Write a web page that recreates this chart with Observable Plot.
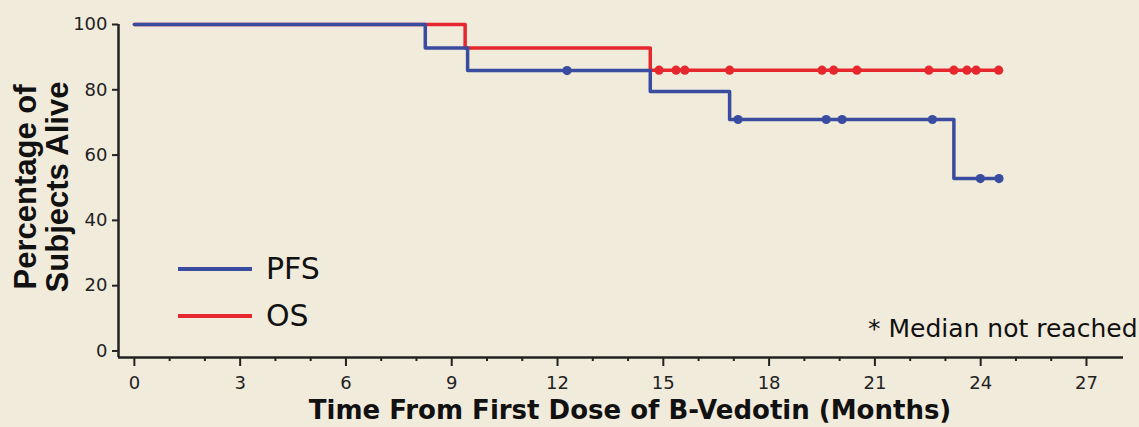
<!DOCTYPE html>
<html><head><meta charset="utf-8">
<script src="https://cdn.jsdelivr.net/npm/d3@7"></script>
<script src="https://cdn.jsdelivr.net/npm/@observablehq/plot@0.6"></script>
<style>
html,body{margin:0;padding:0;background:#f1ebdc;}
#wrap{position:relative;width:1139px;height:427px;background:#f1ebdc;overflow:hidden;}
#legend{position:absolute;left:0;top:0;pointer-events:none;}
</style></head><body><div id="wrap"></div>
<script>
// ---- data ----
const seriesNames = ["PFS", "OS"];
const seriesColors = ["#3a4c9f", "#e6272d"];

const pfsTime = [0, 8.25, 9.45, 14.63, 16.88, 23.24, 24.52];
const pfsSurv = [100, 92.8, 85.9, 79.5, 70.9, 52.8, 52.8];
const pfsCensorTime = [12.27, 17.12, 19.62, 20.07, 22.63, 23.99, 24.52];
const pfsCensorSurv = [85.9, 70.9, 70.9, 70.9, 70.9, 52.8, 52.8];

const osTime = [0, 9.38, 14.63, 24.51];
const osSurv = [100, 92.8, 86.0, 86.0];
const osCensorTime = [14.88, 15.36, 15.61, 16.88, 19.5, 19.83, 20.49, 22.53, 23.24, 23.61, 23.87, 24.51];
const osCensorSurv = [86.0, 86.0, 86.0, 86.0, 86.0, 86.0, 86.0, 86.0, 86.0, 86.0, 86.0, 86.0];

const xMajorTicks = [0, 3, 6, 9, 12, 15, 18, 21, 24, 27];
const xMinorTicks = [1, 2, 4, 5, 7, 8, 10, 11, 13, 14, 16, 17, 19, 20, 22, 23, 25, 26];
const yTicks = [0, 20, 40, 60, 80, 100];
const xDomain = [-0.45, 28.05];
const yDomain = [-2, 100];

const xTitle = "Time From First Dose of B-Vedotin (Months)";
const yTitle = "Percentage of\nSubjects Alive";
const noteText = "* Median not reached";

// ---- build rows ----
const zip = (a, b) => a.map((t, i) => ({t, s: b[i]}));
const pfsRows = zip(pfsTime, pfsSurv);
const osRows = zip(osTime, osSurv);
const pfsCens = zip(pfsCensorTime, pfsCensorSurv);
const osCens = zip(osCensorTime, osCensorSurv);
const [blue, red] = seriesColors;

const chart = Plot.plot({
  width: 1139, height: 427,
  marginLeft: 118, marginRight: 16, marginTop: 24, marginBottom: 70,
  style: {background: "transparent", color: "#222", fontFamily: "'DejaVu Sans', Verdana, sans-serif", fontSize: "18px", overflow: "visible"},
  x: {domain: xDomain, label: null},
  y: {domain: yDomain, label: null},
  marks: [
    Plot.axisX({ticks: xMinorTicks, tickSize: 4, tickFormat: () => "", strokeWidth: 2, label: null}),
    Plot.axisX({ticks: xMajorTicks, tickSize: 9, tickPadding: 10, fontSize: 18, strokeWidth: 2, label: null}),
    Plot.axisY({ticks: yTicks, tickSize: 6, tickPadding: 5, fontSize: 18, strokeWidth: 2, label: null}),
    Plot.ruleX([xDomain[0]], {stroke: "#222", strokeWidth: 2.5}),
    Plot.ruleY([yDomain[0]], {stroke: "#222", strokeWidth: 2.5}),
    Plot.line(osRows, {x: "t", y: "s", curve: "step-after", stroke: red, strokeWidth: 3.5}),
    Plot.line(pfsRows, {x: "t", y: "s", curve: "step-after", stroke: blue, strokeWidth: 3.5}),
    Plot.dot(osCens, {x: "t", y: "s", r: 4.6, fill: red}),
    Plot.dot(pfsCens, {x: "t", y: "s", r: 4.6, fill: blue}),
    Plot.text([xTitle], {text: d => d, frameAnchor: "bottom", textAnchor: "middle", dx: 9, dy: 61, fontSize: 26, fontWeight: "bold", fill: "#111"}),
    Plot.text([yTitle], {text: d => d, frameAnchor: "left", textAnchor: "middle", rotate: -90, dx: -77, dy: -4, fontSize: 31, fontWeight: "bold", lineHeight: 1.04, fill: "#111", fontFamily: "'Liberation Sans', Arial, sans-serif"}),
    Plot.text([noteText], {text: d => d, frameAnchor: "bottom-right", textAnchor: "end", dx: 14, dy: -21, fontSize: 25, fill: "#111"})
  ]
});
document.getElementById("wrap").appendChild(chart);

// ---- legend overlay ----
const lg = d3.select("#wrap").append("svg").attr("id", "legend").attr("width", 1139).attr("height", 427);
const legendRows = seriesNames.map((name, i) => ({name, color: seriesColors[i], i}));
const g = lg.selectAll("g").data(legendRows).join("g")
  .attr("transform", d => `translate(178,${269 + d.i * 47})`);
g.append("line").attr("x1", 0).attr("x2", 74).attr("y1", 0).attr("y2", 0)
  .attr("stroke", d => d.color).attr("stroke-width", 3.8);
g.append("text").attr("x", 88).attr("y", 10).text(d => d.name)
  .attr("font-family", "'DejaVu Sans', Verdana, sans-serif").attr("font-size", 30).attr("fill", "#111");
</script></body></html>
